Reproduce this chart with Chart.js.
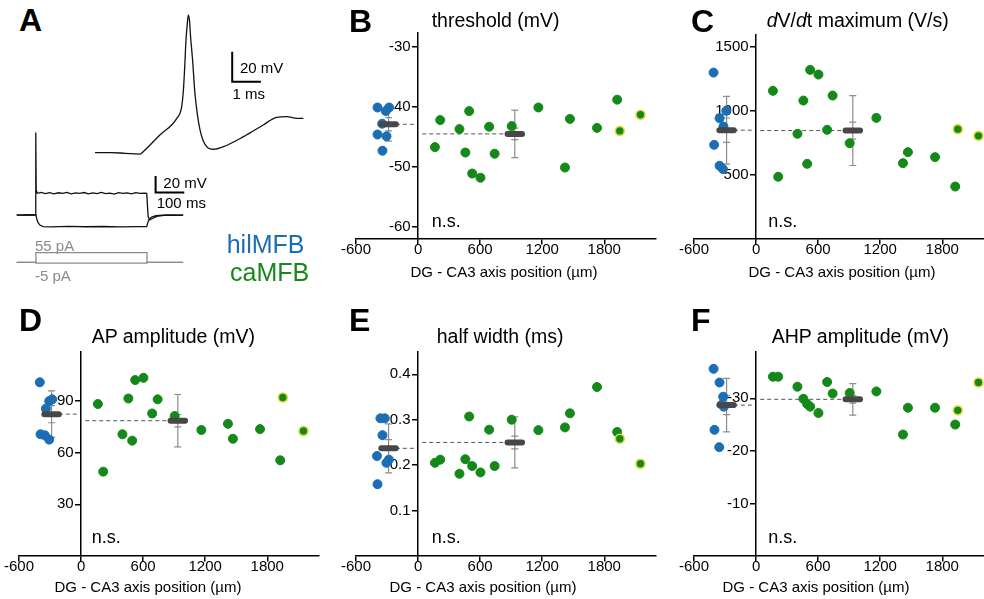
<!DOCTYPE html>
<html>
<head>
<meta charset="utf-8">
<script src="https://cdn.jsdelivr.net/npm/chart.js@4/dist/chart.umd.min.js"></script>
<style>
html, body { margin: 0; padding: 0; background: #fff; width: 984px; height: 599px; overflow: hidden; }
body { position: relative; font-family: "Liberation Sans", Arial, sans-serif; }
canvas { position: absolute; }
.t { position: absolute; white-space: nowrap; line-height: 1; color: #000; z-index: 5; }
</style>
</head>
<body>
<script>
// ---------- data ----------
// DG - CA3 axis position (µm) of the caMFB recordings (same cells in every panel)
const xTicks = [-600, 0, 600, 1200, 1800];
const caPos = [163, 214, 400, 457, 494, 523, 603, 687, 740, 905, 1163, 1420, 1468, 1730, 1925, 1950, 2150];
const caRing = [0, 0, 0, 0, 0, 0, 0, 0, 0, 0, 0, 0, 0, 0, 0, 1, 1];

// B threshold (mV)
const hilPosB = [-392, -280, -312, -347, -392, -305, -344];
const hilB = [-40.1, -40.1, -40.7, -42.8, -44.6, -44.9, -47.3];
const caB = [-46.7, -42.2, -43.7, -47.6, -40.7, -51.1, -51.8, -43.3, -47.8, -43.2, -40.1, -50.1, -42.0, -43.5, -38.8, -44.0, -41.3];
const hilStatB = [-42.9, 2.8, 1.1];   // mean, SD, SEM
const caStatB = [-44.5, 3.95, 0.96];
const yTicksB = [-60, -50, -40, -30];

// C dV/dt maximum (V/s)
const hilPosC = [-411, -353, -288, -315, -405, -353, -320];
const hilC = [1297, 942, 999, 877, 734, 571, 545];
const caC = [1155, 485, 820, 1079, 586, 1318, 1282, 851, 1118, 747, 944, 591, 677, 638, 409, 856, 804];
const hilStatC = [848, 264, 95];
const caStatC = [845, 272, 66];
const yTicksC = [500, 1000, 1500];

// D AP amplitude (mV)
const hilPosD = [-399, -340, -308, -279, -392, -350, -308];
const hilD = [100.9, 85.6, 90, 91, 70.7, 70.1, 67.6];
const caD = [88.3, 49, 70.7, 91.5, 67, 102.2, 103.5, 82.8, 91, 81.3, 73.2, 76.8, 68.1, 73.7, 55.6, 92.1, 72.6];
const hilStatD = [82.4, 13.5, 5.0];
const caStatD = [78.6, 15.2, 3.6];
const yTicksD = [30, 60, 90];

// E half width (ms)
const hilPosE = [-397, -344, -364, -322, -306, -282, -392];
const hilE = [0.220, 0.266, 0.303, 0.303, 0.205, 0.212, 0.158];
const caE = [0.205, 0.212, 0.181, 0.213, 0.307, 0.198, 0.184, 0.278, 0.198, 0.300, 0.277, 0.283, 0.314, 0.372, 0.273, 0.258, 0.203];
const hilStatE = [0.237, 0.054, 0.019];
const caStatE = [0.250, 0.056, 0.014];
const yTicksE = [0.1, 0.2, 0.3, 0.4];

// F AHP amplitude (mV)
const hilPosF = [-411, -353, -318, -312, -330, -402, -356];
const hilF = [-35.6, -33.0, -30.3, -28.4, -28.8, -24.0, -20.7];
const caF = [-34.1, -34.1, -32.2, -29.9, -28.9, -28.4, -27.2, -33.1, -30.9, -31.0, -31.3, -23.1, -28.2, -28.2, -25.0, -27.7, -33.0];
const hilStatF = [-28.7, 5.1, 1.8];
const caStatF = [-29.8, 3.0, 0.73];
const yTicksF = [-30, -20, -10];

// A: example action potential (ms, mV)
const apT = [0, 0.52, 1.05, 1.57, 1.68, 2.26, 2.85, 3.02, 3.08, 3.12, 3.17, 3.22, 3.25, 3.29, 3.33, 3.40, 3.48, 3.57, 3.66, 3.76, 3.89, 4.01, 4.12, 4.47, 5.17, 5.86, 6.33, 6.68, 6.97, 7.26];
const apV = [-75, -74.9, -75.4, -75.9, -74.3, -63.2, -52.1, -44.3, -33.2, -19.9, 0.1, 12.1, 16.8, 13.5, 2.3, -13.2, -35.2, -49.9, -59.9, -66.5, -71.0, -72.5, -72.7, -71.0, -64.3, -56.5, -51.4, -51.0, -51.9, -52.1];
const apBarT = [4.78, 4.78, 5.78];
const apBarV = [-7.7, -27.7, -27.7];

// A: responses to current steps (ms, mV)
const upT = [0, 20, 40, 60, 66, 66.5, 68, 72, 85, 100, 115, 130, 145, 160, 175, 190, 205, 220, 235, 250, 265, 280, 295, 310, 325, 340, 355, 370, 385, 400, 415, 430, 445, 453, 458, 463, 475, 490, 520, 550, 580];
const upV = [-80, -80.3, -79.8, -80.1, -80, 19, -50, -54, -53, -54.5, -53.2, -54.6, -53.4, -54.2, -53, -54.8, -53.6, -54, -53.1, -54.7, -53.5, -54.3, -53, -54.5, -53.8, -54.9, -53.3, -54, -53.6, -54.6, -53.2, -54.1, -53.7, -54, -82, -86, -84, -81.5, -80.3, -80.6, -80.2];
const dnT = [0, 30, 60, 67, 70, 75, 82, 92, 120, 180, 240, 300, 360, 420, 453, 457, 462, 470, 485, 510, 545, 580];
const dnV = [-80.2, -79.9, -80.1, -80, -85, -89.5, -92.5, -94, -94.3, -93.8, -94.2, -93.9, -94.3, -94, -94.1, -89, -85, -82.5, -81, -80.4, -80.1, -80.3];
const stepBarT = [484, 484, 584];
const stepBarV = [-33.2, -53.2, -53.2];

// A: injected current (ms, pA)
const iT = [0, 67, 67, 454, 454, 580];
const iUp = [0, 0, 55, 55, 0, 0];
const iDn = [0, 0, -5, -5, 0, 0];

// ---------- style ----------
const FONT = '"Liberation Sans", Arial, sans-serif';
const BLUE = '#1b6db4';
const GREEN = '#14891a';
const RING = '#e0dc3a';
const groupX = [-285, 935];
const barHalf = 70;
Chart.defaults.font.family = FONT;

function label(html, left, baseline, size, extra) {
  const d = document.createElement('div');
  d.className = 't';
  d.innerHTML = html;
  d.style.left = left + 'px';
  d.style.top = (baseline - 0.8465 * size) + 'px';
  d.style.fontSize = size + 'px';
  if (extra) Object.assign(d.style, extra);
  document.body.appendChild(d);
}

function pts(xs, ys) {
  return xs.map((x, i) => ({x: x, y: ys[i]}));
}

function statsPlugin(p) {
  return {
    id: 'stats' + p.id,
    beforeDatasetsDraw(chart) {
      const ctx = chart.ctx, xs = chart.scales.x, ys = chart.scales.y;
      ctx.save();
      [p.hs, p.cs].forEach((st, g) => {
        const cx = xs.getPixelForValue(groupX[g]);
        const ym = ys.getPixelForValue(st[0]);
        ctx.setLineDash([4, 3]);
        ctx.strokeStyle = '#555';
        ctx.lineWidth = 1;
        ctx.beginPath();
        if (g === 0) {
          ctx.moveTo(xs.getPixelForValue(groupX[0] + barHalf), ym);
          ctx.lineTo(xs.getPixelForValue(-20), ym);
        } else {
          ctx.moveTo(xs.getPixelForValue(40), ym);
          ctx.lineTo(xs.getPixelForValue(groupX[1] - barHalf), ym);
        }
        ctx.stroke();
        ctx.setLineDash([]);
        const hi = ys.getPixelForValue(st[0] + st[1]), lo = ys.getPixelForValue(st[0] - st[1]);
        const shi = ys.getPixelForValue(st[0] + st[2]), slo = ys.getPixelForValue(st[0] - st[2]);
        ctx.strokeStyle = '#8c8c8c';
        ctx.lineWidth = 1.2;
        ctx.beginPath();
        ctx.moveTo(cx, hi);
        ctx.lineTo(cx, lo);
        [hi, lo, shi, slo].forEach(py => { ctx.moveTo(cx - 3.5, py); ctx.lineTo(cx + 3.5, py); });
        ctx.stroke();
      });
      ctx.restore();
    },
    afterDatasetsDraw(chart) {
      const ctx = chart.ctx, xs = chart.scales.x, ys = chart.scales.y;
      ctx.save();
      ctx.strokeStyle = '#474747';
      ctx.lineWidth = 6;
      ctx.lineCap = 'round';
      [p.hs, p.cs].forEach((st, g) => {
        const ym = ys.getPixelForValue(st[0]);
        ctx.beginPath();
        ctx.moveTo(xs.getPixelForValue(groupX[g] - barHalf), ym);
        ctx.lineTo(xs.getPixelForValue(groupX[g] + barHalf), ym);
        ctx.stroke();
      });
      ctx.restore();
    }
  };
}

function makeScatter(p) {
  const padL = 26, padR = 10, padT = 16, padB = 50;
  const cv = document.createElement('canvas');
  cv.width = 300 + padL + padR;
  cv.height = (p.bottom - p.top) + padT + padB;
  cv.style.left = (p.left - padL) + 'px';
  cv.style.top = (p.top - padT) + 'px';
  document.body.appendChild(cv);
  const tickFont = {family: FONT, size: 15, lineHeight: 1};
  new Chart(cv, {
    type: 'scatter',
    data: {datasets: [
      {data: pts(p.hx, p.hy), backgroundColor: BLUE, borderColor: BLUE, borderWidth: 1, pointRadius: 4.5},
      {data: pts(caPos, p.cy), backgroundColor: GREEN,
       borderColor: caRing.map(r => r ? RING : GREEN),
       borderWidth: caRing.map(r => r ? 1.6 : 1), pointRadius: 4.5}
    ]},
    options: {
      responsive: false,
      animation: false,
      devicePixelRatio: 1,
      layout: {padding: {left: padL, right: padR, top: padT, bottom: padB}},
      plugins: {legend: {display: false}, tooltip: {enabled: false}},
      scales: {
        x: {
          type: 'linear', min: -600, max: 2300, position: {y: p.base},
          afterBuildTicks: s => { s.ticks = xTicks.map(v => ({value: v})); },
          grid: {drawOnChartArea: false, drawTicks: true, tickLength: 5, color: '#000', lineWidth: 1.5},
          border: {display: true, color: '#000', width: 1.5},
          ticks: {color: '#000', font: tickFont, padding: -2, maxRotation: 0, autoSkip: false, callback: v => String(v)}
        },
        y: {
          type: 'linear', min: p.yMin, max: p.yMax, reverse: p.rev, position: {x: 0},
          afterBuildTicks: s => { s.ticks = p.yTicks.map(v => ({value: v})); },
          grid: {drawOnChartArea: false, drawTicks: true, tickLength: 5, color: '#000', lineWidth: 1.5},
          border: {display: true, color: '#000', width: 1.5},
          ticks: {color: '#000', font: tickFont, autoSkip: false, callback: v => String(v) + '\u2002'}
        }
      }
    },
    plugins: [statsPlugin(p)]
  });
}

function makeTrace(box, xr, yr, sets) {
  const cv = document.createElement('canvas');
  cv.width = box[2];
  cv.height = box[3];
  cv.style.left = box[0] + 'px';
  cv.style.top = box[1] + 'px';
  document.body.appendChild(cv);
  new Chart(cv, {
    type: 'scatter',
    data: {datasets: sets.map(s => Object.assign({showLine: true, pointRadius: 0, clip: false, fill: false}, s))},
    options: {
      responsive: false,
      animation: false,
      devicePixelRatio: 1,
      layout: {padding: 0},
      plugins: {legend: {display: false}, tooltip: {enabled: false}},
      scales: {
        x: {type: 'linear', min: xr[0], max: xr[1], display: false},
        y: {type: 'linear', min: yr[0], max: yr[1], display: false}
      }
    }
  });
}

// ---------- panel A ----------
makeTrace([90, 5, 220, 160], [-0.174, 7.49], [-83.2, 23.5], [
  {data: pts(apT, apV), borderColor: '#111', borderWidth: 1.3, cubicInterpolationMode: 'monotone'},
  {data: pts(apBarT, apBarV), borderColor: '#000', borderWidth: 2}
]);
makeTrace([10, 125, 185, 110], [-23.3, 621.3], [-104.1, 28.0], [
  {data: pts(upT, upV), borderColor: '#111', borderWidth: 1.3},
  {data: pts(dnT, dnV), borderColor: '#111', borderWidth: 1.3},
  {data: pts(stepBarT, stepBarV), borderColor: '#000', borderWidth: 2}
]);
makeTrace([10, 245, 185, 30], [-23.3, 621.3], [-72.9, 99], [
  {data: pts(iT, iUp), borderColor: '#8a8a8a', borderWidth: 1.3},
  {data: pts(iT, iDn), borderColor: '#8a8a8a', borderWidth: 1.3}
]);

// ---------- panels B-F ----------
makeScatter({id: 'B', hx: hilPosB, hy: hilB, cy: caB, hs: hilStatB, cs: caStatB,
  yMin: -62, yMax: -27.7, base: -62, rev: false, yTicks: yTicksB, left: 356, top: 33, bottom: 239});
makeScatter({id: 'C', hx: hilPosC, hy: hilC, cy: caC, hs: hilStatC, cs: caStatC,
  yMin: 0, yMax: 1590, base: 0, rev: false, yTicks: yTicksC, left: 694, top: 35, bottom: 239});
makeScatter({id: 'D', hx: hilPosD, hy: hilD, cy: caD, hs: hilStatD, cs: caStatD,
  yMin: 0, yMax: 118.5, base: 0, rev: false, yTicks: yTicksD, left: 19, top: 352, bottom: 556});
makeScatter({id: 'E', hx: hilPosE, hy: hilE, cy: caE, hs: hilStatE, cs: caStatE,
  yMin: 0, yMax: 0.449, base: 0, rev: false, yTicks: yTicksE, left: 356, top: 352, bottom: 556});
makeScatter({id: 'F', hx: hilPosF, hy: hilF, cy: caF, hs: hilStatF, cs: caStatF,
  yMin: -38.8, yMax: 0, base: 0, rev: true, yTicks: yTicksF, left: 694, top: 352, bottom: 556});

// ---------- text ----------
const bold = {fontWeight: 'bold'};
label('A', 19, 31, 32, bold);
label('B', 349, 32, 32, bold);
label('C', 691, 32, 32, bold);
label('D', 19, 331.5, 32, bold);
label('E', 349, 331.5, 32, bold);
label('F', 691, 331.5, 32, bold);

label('threshold (mV)', 431.7, 28, 19.5);
label('<i>d</i>V/<i>d</i>t maximum (V/s)', 766.7, 28, 19.5);
label('AP amplitude (mV)', 91.7, 343.3, 19.5);
label('half width (ms)', 436.7, 343.3, 19.5);
label('AHP amplitude (mV)', 771.7, 343.3, 19.5);

const mid = {transform: 'translateX(-50%)'};
const axisTitle = 'DG - CA3 axis position (µm)';
label(axisTitle, 504, 277, 15, mid);
label(axisTitle, 842, 277, 15, mid);
label(axisTitle, 148, 592, 15, mid);
label(axisTitle, 483, 592, 15, mid);
label(axisTitle, 816, 592, 15, mid);

label('n.s.', 431.7, 227, 18);
label('n.s.', 768.3, 227, 18);
label('n.s.', 91.7, 543, 18);
label('n.s.', 431.7, 543, 18);
label('n.s.', 768.3, 543, 18);

label('20 mV', 240, 72.4, 15);
label('1 ms', 232.5, 99, 15);
label('20 mV', 163.3, 187.4, 15);
label('100 ms', 156.7, 207.4, 15);
label('55 pA', 35, 250.5, 15, {color: '#8a8a8a'});
label('-5 pA', 35, 280.5, 15, {color: '#8a8a8a'});
label('hilMFB', 226.7, 253, 25, {color: BLUE});
label('caMFB', 230, 281.5, 25, {color: GREEN});
</script>
</body>
</html>
